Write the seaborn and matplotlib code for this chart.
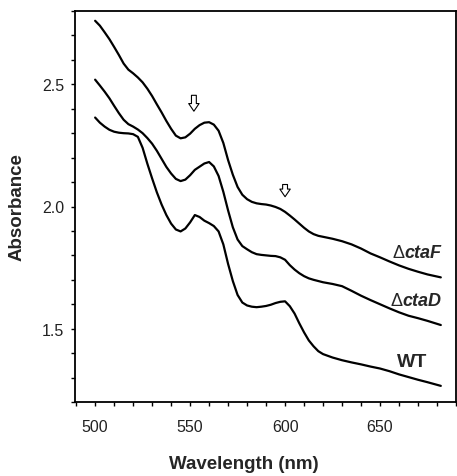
import matplotlib
matplotlib.use("Agg")
import matplotlib.pyplot as plt
import seaborn as sns
import pandas as pd
from matplotlib.ticker import MultipleLocator

# ---- data ----
wl_ctaF = [500, 502.5, 505, 507.5, 510, 512.5, 515, 517.5, 520, 522.5, 525, 527.5, 530,
           532.5, 535, 537.5, 540, 542.5, 545, 547.5, 550, 552.5, 555, 557.5, 560, 562.5,
           565, 567.5, 570, 572.5, 575, 577.5, 580, 582.5, 585, 587.5, 590, 592.5, 595,
           597.5, 600, 602.5, 605, 607.5, 610, 612.5, 615, 617.5, 620, 625, 630, 635,
           640, 645, 650, 655, 660, 665, 670, 675, 682]
abs_ctaF = [2.76, 2.74, 2.713, 2.685, 2.653, 2.62, 2.585, 2.56, 2.545, 2.528, 2.508,
            2.482, 2.452, 2.418, 2.385, 2.35, 2.318, 2.29, 2.279, 2.283, 2.298, 2.318,
            2.333, 2.343, 2.345, 2.335, 2.31, 2.26, 2.19, 2.13, 2.08, 2.048, 2.03, 2.019,
            2.013, 2.01, 2.008, 2.004, 1.998, 1.99, 1.978, 1.963, 1.947, 1.93, 1.913,
            1.898, 1.887, 1.88, 1.876, 1.868, 1.858, 1.845, 1.828, 1.808, 1.792, 1.775,
            1.759, 1.745, 1.733, 1.722, 1.71]

wl_ctaD = list(wl_ctaF)
abs_ctaD = [2.519, 2.495, 2.47, 2.443, 2.412, 2.382, 2.355, 2.337, 2.327, 2.315, 2.30,
            2.28, 2.257, 2.228, 2.195, 2.162, 2.135, 2.113, 2.104, 2.11, 2.128, 2.15,
            2.163, 2.176, 2.182, 2.164, 2.125, 2.06, 1.984, 1.915, 1.865, 1.838, 1.825,
            1.813, 1.805, 1.802, 1.80, 1.798, 1.797, 1.792, 1.782, 1.76, 1.742, 1.727,
            1.715, 1.706, 1.70, 1.695, 1.69, 1.683, 1.674, 1.655, 1.635, 1.617, 1.60,
            1.583, 1.567, 1.553, 1.543, 1.532, 1.515]

wl_wt = list(wl_ctaF)
abs_wt = [2.364, 2.343, 2.327, 2.314, 2.306, 2.302, 2.30, 2.299, 2.296, 2.285, 2.24,
          2.175, 2.115, 2.058, 2.008, 1.965, 1.93, 1.906, 1.898, 1.91, 1.935, 1.965,
          1.957, 1.942, 1.932, 1.92, 1.898, 1.845, 1.765, 1.695, 1.638, 1.607, 1.595,
          1.59, 1.588, 1.59, 1.593, 1.598, 1.605, 1.61, 1.612, 1.592, 1.562, 1.522,
          1.485, 1.452, 1.428, 1.408, 1.396, 1.382, 1.371, 1.362, 1.354, 1.345, 1.337,
          1.326, 1.313, 1.302, 1.291, 1.281, 1.266]

strains = ["ctaF", "ctaD", "WT"]
label_pos = {"ctaF": (682.5, 1.81), "ctaD": (682.5, 1.617), "WT": (659, 1.364)}
arrow_x = [552, 600]
arrow_tip = [2.39, 2.04]
arrow_top = [2.455, 2.09]

xticks = [500, 550, 600, 650]
yticks = [1.5, 2.0, 2.5]

df = pd.concat([
    pd.DataFrame({"Wavelength": wl_ctaF, "Absorbance": abs_ctaF, "strain": "ctaF"}),
    pd.DataFrame({"Wavelength": wl_ctaD, "Absorbance": abs_ctaD, "strain": "ctaD"}),
    pd.DataFrame({"Wavelength": wl_wt, "Absorbance": abs_wt, "strain": "WT"}),
], ignore_index=True)

sns.set_style("ticks")
plt.rcParams["font.family"] = ["Liberation Sans", "DejaVu Sans"]

fig = plt.figure(figsize=(4.57, 4.77), dpi=100)
ax = fig.add_axes([75 / 457, (477 - 403) / 477, (456 - 75) / 457, (403 - 12) / 477])

sns.lineplot(data=df, x="Wavelength", y="Absorbance", hue="strain",
             palette={s: "black" for s in strains}, estimator=None, sort=True,
             linewidth=1.6, legend=False, ax=ax)
for ln in ax.get_lines():
    ln.set_solid_joinstyle("round")
    ln.set_solid_capstyle("round")

ax.set_xlim(489.4, 690)
ax.set_ylim(1.2, 2.8)
ax.set_xticks(xticks)
ax.set_yticks(yticks)
ax.set_xticklabels([str(v) for v in xticks])
ax.set_yticklabels([f"{v:.1f}" for v in yticks])
ax.xaxis.set_minor_locator(MultipleLocator(10))
ax.yaxis.set_minor_locator(MultipleLocator(0.1))
ax.tick_params(axis="both", which="both", direction="out", length=3, width=1,
               color="black", labelsize=11.5, labelcolor="#222222")
ax.tick_params(axis="x", which="major", pad=9)
ax.tick_params(axis="y", which="major", pad=5)

for sp in ax.spines.values():
    sp.set_visible(True)
    sp.set_linewidth(1.3)
    sp.set_color("black")

ax.set_xlabel("Wavelength (nm)", fontsize=13.5, fontweight="bold")
ax.set_ylabel("Absorbance", fontsize=13.5, fontweight="bold")
ax.xaxis.set_label_coords((244 - 75) / 381, (403 - 456) / 391)
ax.yaxis.set_label_coords((26 - 75) / 381, 0.5)

# curve labels
for s in strains:
    x, y = label_pos[s]
    if s == "WT":
        ax.text(x, y, "WT", fontsize=14, fontweight="bold", ha="left", va="center")
    else:
        t = ax.text(x, y, s, fontsize=13, fontweight="bold", fontstyle="italic",
                    ha="right", va="center")
        ax.annotate("\u0394", xy=(0, 0.5), xycoords=t, fontsize=13,
                    ha="right", va="center")

# hollow arrows
for xa, yt, y0 in zip(arrow_x, arrow_tip, arrow_top):
    ax.annotate("", xy=(xa, yt), xytext=(xa, y0),
                arrowprops=dict(arrowstyle="simple,head_length=0.55,head_width=0.75,tail_width=0.35",
                                fc="white", ec="black", lw=0.8, shrinkA=0, shrinkB=0))

fig.savefig("out.png", dpi=100)
